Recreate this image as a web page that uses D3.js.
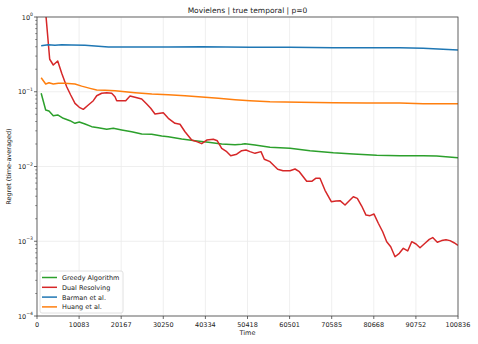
<!DOCTYPE html>
<html>
<head>
<meta charset="utf-8">
<script src="https://cdn.jsdelivr.net/npm/d3@7"></script>
<style>
  body { margin: 0; background: #fff; }
  text { font-family: "DejaVu Sans", sans-serif; fill: #222; }
</style>
</head>
<body>
<div id="chart"></div>
<script>
// data
var tMax = 100836;
var xTicks = [0, 10083, 20167, 30250, 40334, 50418, 60501, 70585, 80668, 90752, 100836];
var yTicks = [0, -1, -2, -3, -4]; // exponents

var greedyT = [1000, 2080, 2870, 3900, 4960, 6300, 7900, 9100, 10130, 11500, 13100, 14680, 16700, 18280, 20290, 22680, 25080, 27470, 29870, 31450, 34660, 37840, 41030, 44240, 47430, 49030, 49820, 52200, 55810, 60600, 65390, 70970, 75760, 81360, 86950, 92530, 95730, 100836];
var greedyV = [0.0954, 0.0570, 0.0553, 0.0478, 0.0489, 0.0441, 0.0410, 0.0378, 0.0394, 0.0370, 0.0341, 0.0330, 0.0315, 0.0324, 0.0308, 0.0292, 0.0272, 0.0270, 0.0256, 0.0250, 0.0233, 0.0221, 0.0211, 0.0200, 0.0196, 0.0198, 0.0202, 0.0194, 0.0181, 0.0175, 0.0163, 0.0153, 0.0147, 0.0141, 0.0139, 0.0139, 0.0138, 0.0131];

var dualT = [1000, 3040, 3900, 4960, 5920, 7110, 8070, 9100, 10130, 11090, 12290, 13490, 14300, 15500, 16690, 17890, 18680, 19090, 20290, 21250, 22280, 23470, 25080, 26280, 27230, 28260, 30250, 31450, 33050, 34250, 35450, 37050, 38250, 39450, 40650, 42230, 43190, 44240, 45440, 46400, 47830, 49030, 50060, 51020, 52210, 53650, 54440, 55810, 57650, 58920, 60600, 61800, 62830, 64600, 65800, 66750, 67780, 68980, 70490, 71620, 72580, 73780, 74970, 75760, 76720, 77770, 78800, 79760, 80720, 81750, 82800, 83760, 84720, 85750, 86780, 87740, 88790, 89750, 90780, 91740, 92930, 93960, 94780, 95880, 96930, 97960, 98920, 99880, 100836];
var dualV = [5.8, 0.272, 0.228, 0.258, 0.1765, 0.1168, 0.0905, 0.0700, 0.0619, 0.0582, 0.0665, 0.0759, 0.0885, 0.0954, 0.0971, 0.0954, 0.0859, 0.0759, 0.0759, 0.0759, 0.0877, 0.0843, 0.0800, 0.0686, 0.0601, 0.0504, 0.0524, 0.0441, 0.0378, 0.0367, 0.0292, 0.0226, 0.0215, 0.0202, 0.0226, 0.0231, 0.0221, 0.0175, 0.0158, 0.0139, 0.0146, 0.0163, 0.0166, 0.0158, 0.0150, 0.0158, 0.0125, 0.0116, 0.00917, 0.00879, 0.00879, 0.00926, 0.00852, 0.00634, 0.00634, 0.00695, 0.00695, 0.00480, 0.00338, 0.00346, 0.00349, 0.00305, 0.00356, 0.00394, 0.00375, 0.00296, 0.00224, 0.00220, 0.00231, 0.00174, 0.00134, 0.000986, 0.000846, 0.000621, 0.000690, 0.000804, 0.000741, 0.000986, 0.000919, 0.000820, 0.000939, 0.00106, 0.00112, 0.000968, 0.00102, 0.00105, 0.00102, 0.000956, 0.000883];

var barmanT = [1000, 2700, 4300, 5900, 8300, 11500, 14700, 17100, 23500, 31400, 39400, 51000, 60600, 71000, 81400, 86900, 92500, 100836];
var barmanV = [0.413, 0.426, 0.418, 0.426, 0.422, 0.418, 0.406, 0.397, 0.397, 0.397, 0.401, 0.393, 0.393, 0.388, 0.388, 0.388, 0.381, 0.362];

var huangT = [1000, 2080, 2870, 3900, 5100, 6700, 9100, 10700, 12700, 14300, 16300, 18700, 21100, 23500, 27500, 31450, 35450, 39450, 43430, 47430, 51000, 55800, 63000, 71000, 79000, 86900, 92500, 100836];
var huangV = [0.154, 0.127, 0.132, 0.127, 0.130, 0.130, 0.127, 0.119, 0.111, 0.1055, 0.1045, 0.1033, 0.100, 0.0971, 0.0933, 0.0913, 0.0885, 0.0851, 0.0818, 0.0783, 0.0759, 0.0736, 0.0722, 0.0714, 0.0707, 0.0707, 0.0692, 0.0692];

var seriesNames = ['Greedy Algorithm', 'Dual Resolving', 'Barman et al.', 'Huang et al.'];
var seriesColors = ['#2ca02c', '#d62728', '#1f77b4', '#ff7f0e'];

var width = 478, height = 344;
var margin = {left: 37, right: 20, top: 17, bottom: 28};

var svg = d3.select('#chart').append('svg')
	.attr('width', width)
	.attr('height', height);

var x = d3.scaleLinear()
	.domain([0, tMax])
	.range([margin.left, width - margin.right]);

var y = d3.scaleLog()
	.domain([1e-4, 1])
	.range([height - margin.bottom, margin.top]);

// grid
svg.append('g').selectAll('line.gx')
	.data(xTicks).enter().append('line')
	.attr('x1', d => x(d)).attr('x2', d => x(d))
	.attr('y1', margin.top).attr('y2', height - margin.bottom)
	.attr('stroke', '#ebebeb').attr('stroke-width', 0.8);
svg.append('g').selectAll('line.gy')
	.data(yTicks).enter().append('line')
	.attr('x1', margin.left).attr('x2', width - margin.right)
	.attr('y1', d => y(Math.pow(10, d))).attr('y2', d => y(Math.pow(10, d)))
	.attr('stroke', '#ebebeb').attr('stroke-width', 0.8);

// lines
svg.append('clipPath').attr('id', 'clip')
	.append('rect')
	.attr('x', margin.left).attr('y', margin.top)
	.attr('width', width - margin.left - margin.right)
	.attr('height', height - margin.top - margin.bottom);

var line = d3.line()
	.x(d => x(d[0]))
	.y(d => y(d[1]));

var allData = [
	d3.zip(greedyT, greedyV),
	d3.zip(dualT, dualV),
	d3.zip(barmanT, barmanV),
	d3.zip(huangT, huangV)
];

var plot = svg.append('g').attr('clip-path', 'url(#clip)');
allData.forEach(function(d, i) {
	plot.append('path')
		.attr('d', line(d))
		.attr('fill', 'none')
		.attr('stroke', seriesColors[i])
		.attr('stroke-width', 1.5)
		.attr('stroke-linejoin', 'round');
});

// frame
svg.append('rect')
	.attr('x', margin.left).attr('y', margin.top)
	.attr('width', width - margin.left - margin.right)
	.attr('height', height - margin.top - margin.bottom)
	.attr('fill', 'none').attr('stroke', '#444').attr('stroke-width', 0.8);

// x axis
var xAxis = svg.append('g');
xTicks.forEach(function(t) {
	xAxis.append('line')
		.attr('x1', x(t)).attr('x2', x(t))
		.attr('y1', height - margin.bottom).attr('y2', height - margin.bottom + 3)
		.attr('stroke', '#444').attr('stroke-width', 0.8);
	xAxis.append('text')
		.attr('x', x(t)).attr('y', height - margin.bottom + 11)
		.attr('text-anchor', 'middle')
		.attr('font-size', 6.5)
		.text(t);
});

// y axis, major and minor ticks
var yAxis = svg.append('g');
yTicks.forEach(function(e) {
	var yy = y(Math.pow(10, e));
	yAxis.append('line')
		.attr('x1', margin.left - 3).attr('x2', margin.left)
		.attr('y1', yy).attr('y2', yy)
		.attr('stroke', '#444').attr('stroke-width', 0.8);
	var lab = yAxis.append('text')
		.attr('x', margin.left - 4).attr('y', yy + 2.5)
		.attr('text-anchor', 'end')
		.attr('font-size', 6.5);
	lab.append('tspan').text('10');
	lab.append('tspan')
		.attr('dy', -3.5)
		.attr('font-size', 4.6)
		.text(e === 0 ? '0' : '\u2212' + (-e));
});
for (var e = -4; e < 0; e++) {
	for (var m = 2; m <= 9; m++) {
		var yy = y(m * Math.pow(10, e));
		yAxis.append('line')
			.attr('x1', margin.left - 1.8).attr('x2', margin.left)
			.attr('y1', yy).attr('y2', yy)
			.attr('stroke', '#444').attr('stroke-width', 0.6);
	}
}

// title and axis labels
svg.append('text')
	.attr('x', (margin.left + width - margin.right) / 2).attr('y', 13)
	.attr('text-anchor', 'middle')
	.attr('font-size', 7.5)
	.text('Movielens | true temporal | p=0');

svg.append('text')
	.attr('x', (margin.left + width - margin.right) / 2).attr('y', 335)
	.attr('text-anchor', 'middle')
	.attr('font-size', 6.5)
	.text('Time');

svg.append('text')
	.attr('transform', 'translate(11,' + ((margin.top + height - margin.bottom) / 2) + ') rotate(-90)')
	.attr('text-anchor', 'middle')
	.attr('font-size', 6.5)
	.text('Regret (time-averaged)');

// legend
var legend = svg.append('g');
legend.append('rect')
	.attr('x', 40).attr('y', 271)
	.attr('width', 83).attr('height', 42)
	.attr('rx', 2)
	.attr('fill', 'rgba(255,255,255,0.8)')
	.attr('stroke', '#d8d8d8').attr('stroke-width', 0.8);
seriesNames.forEach(function(name, i) {
	var ly = 277.5 + i * 9.8;
	legend.append('line')
		.attr('x1', 42).attr('x2', 57)
		.attr('y1', ly).attr('y2', ly)
		.attr('stroke', seriesColors[i])
		.attr('stroke-width', 1.5);
	legend.append('text')
		.attr('x', 62).attr('y', ly + 2.4)
		.attr('font-size', 6.5)
		.text(name);
});
</script>
</body>
</html>
